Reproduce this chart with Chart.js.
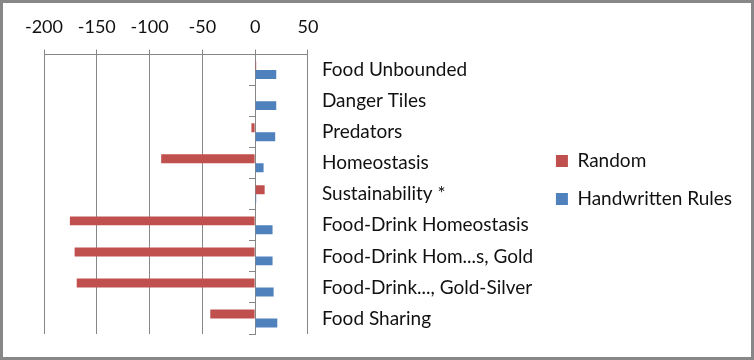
<!DOCTYPE html>
<html>
<head>
<meta charset="utf-8">
<script src="https://cdn.jsdelivr.net/npm/chart.js@4/dist/chart.umd.min.js"></script>
<style>
html,body{margin:0;padding:0;background:#fff;}
#wrap{width:754px;height:360px;position:relative;}
</style>
</head>
<body>
<div id="wrap"><canvas id="c" width="754" height="360"></canvas></div>
<script>
const categories = ["Food Unbounded","Danger Tiles","Predators","Homeostasis","Sustainability *","Food-Drink Homeostasis","Food-Drink Hom...s, Gold","Food-Drink..., Gold-Silver","Food Sharing"];
const randomValues = [1, 0, -3.5, -89, 9, -175.5, -171, -169, -42.5];
const handwrittenValues = [20, 20, 19, 8, 1, 16.5, 16.5, 17.5, 21];
const xTickMin = -200, xTickMax = 50, xTickStep = 50;

const FONT = "Lato";
const GRID = "#868686";

const framePlugin = {
  id: 'frame',
  beforeDraw(chart) {
    const ctx = chart.ctx;
    ctx.save();
    ctx.fillStyle = '#fff';
    ctx.fillRect(0, 0, chart.width, chart.height);
    ctx.restore();
  },
  afterDraw(chart) {
    const ctx = chart.ctx;
    ctx.save();
    ctx.strokeStyle = '#878787';
    ctx.lineWidth = 3;
    ctx.strokeRect(1.5, 1.5, chart.width - 3, chart.height - 3);
    ctx.restore();
  }
};

new Chart(document.getElementById('c'), {
  type: 'bar',
  data: {
    labels: categories,
    datasets: [
      { label: 'Random', data: randomValues, backgroundColor: '#C0504D', borderWidth: 0 },
      { label: 'Handwritten Rules', data: handwrittenValues, backgroundColor: '#4F81BD', borderWidth: 0 }
    ]
  },
  options: {
    indexAxis: 'y',
    responsive: false,
    animation: false,
    categoryPercentage: 0.577,
    barPercentage: 1,
    layout: { padding: { top: 4, bottom: 26, left: 44, right: 12 } },
    scales: {
      x: {
        position: 'top',
        min: xTickMin, max: xTickMax,
        ticks: { stepSize: xTickStep, color: '#111', font: { family: FONT, size: 18 }, padding: 12 },
        grid: { color: GRID, tickLength: 5, lineWidth: 1 },
        border: { color: GRID, width: 1 }
      },
      y: {
        position: 'right',
        grid: { display: false, drawTicks: false, tickLength: 0 },
        border: { display: false },
        ticks: { color: '#111', font: { family: FONT, size: 19 }, padding: 14 },
        afterFit(scale) { scale.width = 229; }
      },
      y2: {
        type: 'category',
        axis: 'y',
        position: { x: 0 },
        ticks: { display: false },
        grid: { drawOnChartArea: false, drawTicks: true, tickLength: 6, color: GRID, offset: true },
        border: { display: true, color: GRID, width: 1 }
      }
    },
    plugins: {
      legend: {
        position: 'right',
        maxWidth: 320,
        title: { display: true, text: '', font: { size: 22, lineHeight: 1 }, padding: 0 },
        labels: { color: '#111', font: { family: FONT, size: 19 }, boxWidth: 12, boxHeight: 12, padding: 19 }
      },
      tooltip: { enabled: false }
    }
  },
  plugins: [framePlugin]
});
</script>
</body>
</html>
